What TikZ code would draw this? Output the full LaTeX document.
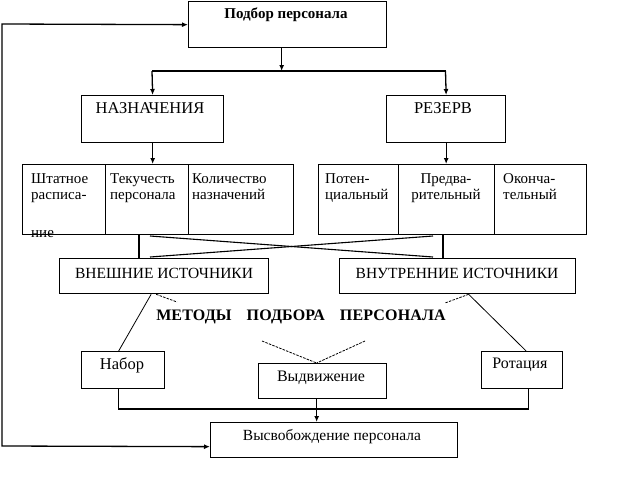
\documentclass[tikz,border=0pt]{standalone}
\usepackage{fontspec}
\setmainfont{Liberation Serif}
\usetikzlibrary{arrows.meta}
\begin{document}
\begin{tikzpicture}[x=1pt,y=-1pt,
  box/.style={draw, line width=1.3pt, inner sep=0pt, anchor=north west},
  conn/.style={line width=1.3pt},
  tip/.tip={Latex[length=6pt,width=5pt]},
  arr/.style={conn, -tip},
  thinln/.style={line width=0.8pt},
  dsh/.style={line width=0.8pt, dash pattern=on 2.5pt off 1.2pt},
  txt/.style={inner sep=0pt, font=\fontsize{15.5}{17}\selectfont},
  ctxt/.style={inner sep=0pt, anchor=north west, align=left, font=\fontsize{15}{16}\selectfont},
]
\useasboundingbox (0,0) rectangle (640,480);
% boxes
\node[box, minimum width=198pt, minimum height=46pt] (top) at (188,1) {};
\node[box, minimum width=142pt, minimum height=47pt] (naz) at (81,95) {};
\node[box, minimum width=119pt, minimum height=47pt] (rez) at (386,95) {};
\node[box, minimum width=83pt, minimum height=70pt] (c1) at (22,164) {};
\node[box, minimum width=83pt, minimum height=70pt] (c2) at (105,164) {};
\node[box, minimum width=105pt, minimum height=70pt] (c3) at (188,164) {};
\node[box, minimum width=80pt, minimum height=70pt] (c4) at (318,164) {};
\node[box, minimum width=96pt, minimum height=70pt] (c5) at (398,164) {};
\node[box, minimum width=92pt, minimum height=70pt] (c6) at (494,164) {};
\node[box, minimum width=209pt, minimum height=35pt] (ext) at (59,258) {};
\node[box, minimum width=236pt, minimum height=35pt] (int) at (339,258) {};
\node[box, minimum width=83pt, minimum height=37pt] (nab) at (81,351) {};
\node[box, minimum width=128pt, minimum height=35pt] (vyd) at (258,363) {};
\node[box, minimum width=81pt, minimum height=37pt] (rot) at (481,351) {};
\node[box, minimum width=247pt, minimum height=35pt] (rel) at (210,422) {};
% texts
\node[txt, font=\fontsize{15}{17}\selectfont\bfseries] (tTop) at (286,15) {Подбор персонала};
\node[txt, font=\fontsize{16.5}{17}\selectfont] (tNaz) at (150,108) {НАЗНАЧЕНИЯ};
\node[txt, font=\fontsize{16.5}{17}\selectfont] (tRez) at (443,108) {РЕЗЕРВ};
\node[ctxt] (t1) at (31,173) {Штатное\\расписа-};
\node[ctxt] (t1b) at (31,230) {ние};
\node[ctxt] (t2) at (110,173) {Текучесть\\персонала};
\node[ctxt] (t3) at (192,173) {Количество\\назначений};
\node[ctxt] (t4) at (325,173) {Потен-\\циальный};
\node[ctxt, align=center, anchor=north] (t5) at (446,173) {Предва-\\рительный};
\node[ctxt] (t6) at (503,173) {Оконча-\\тельный};
\node[txt] (tExt) at (164,273) {ВНЕШНИЕ ИСТОЧНИКИ};
\node[txt] (tInt) at (457,273) {ВНУТРЕННИЕ ИСТОЧНИКИ};
\node[txt, font=\fontsize{16}{17}\selectfont\bfseries\addfontfeature{LetterSpace=1}] (tMet) at (301,317) {МЕТОДЫ\hspace{15pt}ПОДБОРА\hspace{15pt}ПЕРСОНАЛА};
\node[txt, font=\fontsize{16.5}{17}\selectfont] (tNab) at (122,365) {Набор};
\node[txt, font=\fontsize{16}{17}\selectfont] (tVyd) at (321,378) {Выдвижение};
\node[txt, font=\fontsize{16}{17}\selectfont] (tRot) at (520,365) {Ротация};
\node[txt] (tRel) at (332,437) {Высвобождение персонала};
% connectors
\coordinate (fbA) at (2,24);
\coordinate (fbB) at (2,446);
\draw[conn, tip-tip] (top.west) -- (fbA) -- (fbB) -- ([yshift=-6.5pt]rel.west);
\coordinate (hL) at (152,71);
\coordinate (hR) at (445.5,71);
\draw[arr] ([xshift=-6pt]top.south) -- ([xshift=-6pt]top.south |- hL);
\draw[conn] (hL) -- (hR);
\draw[arr] (hL) -- (naz.north);
\draw[arr] (hR) -- (rez.north);
\draw[arr] (naz.south) -- (naz.south |- c2.north);
\draw[arr] (rez.south) -- (rez.south |- c5.north);
\coordinate (vL) at (139,0);
\draw[conn] (c2.south -| vL) -- (vL |- ext.north);
\coordinate (vR) at (443,0);
\draw[conn] (c5.south -| vR) -- (vR |- int.north);
\coordinate (xa) at (150,236);
\coordinate (xb) at (433,257);
\coordinate (xc) at (433,236);
\coordinate (xd) at (150,257);
\draw[conn, line width=1.1pt] (xa) -- (xb);
\draw[conn, line width=1.1pt] (xc) -- (xd);
\draw[thinln] ([xshift=-13pt]ext.south) -- ([xshift=-4.5pt]nab.north);
\coordinate (dA) at (177,302);
\draw[dsh] ([xshift=-8pt]ext.south) -- (dA);
\draw[thinln] ([xshift=11pt]int.south) -- ([xshift=4pt]rot.north);
\coordinate (dB) at (445,303);
\draw[dsh] ([xshift=11pt]int.south) -- (dB);
\coordinate (dC) at (262,341);
\coordinate (dD) at (365,341);
\draw[dsh] (dC) -- ([xshift=-6pt]vyd.north);
\draw[dsh] (dD) -- ([xshift=-6pt]vyd.north);
\coordinate (hB) at (0,409);
\draw[conn] ([xshift=-4.5pt]nab.south) -- ([xshift=-4.5pt]nab.south |- hB) -- ([xshift=6pt]rot.south |- hB) -- ([xshift=6pt]rot.south);
\draw[arr] ([xshift=-6pt]vyd.south) -- ([xshift=-6pt]vyd.south |- rel.north);
\end{tikzpicture}
\end{document}
